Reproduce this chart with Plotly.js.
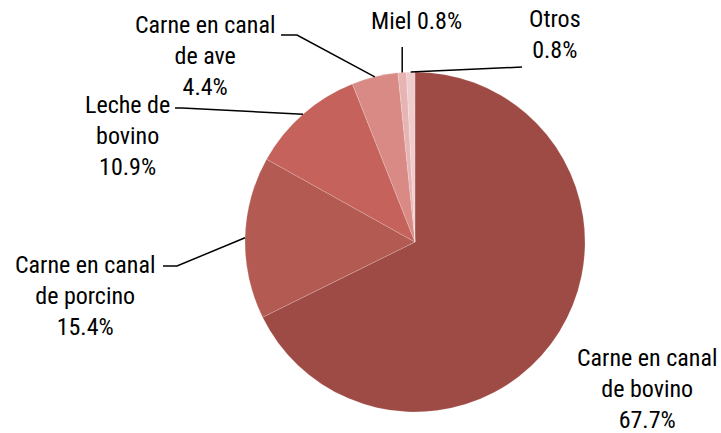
<!DOCTYPE html>
<html>
<head>
<meta charset="utf-8">
<script src="https://cdn.plot.ly/plotly-3.0.1.min.js"></script>
<style>html,body{margin:0;padding:0;background:#fff;}#chart{width:721px;height:433px;}</style>
</head>
<body>
<div id="chart"></div>
<script>
// Data
const categories = ["Carne en canal de bovino", "Carne en canal de porcino", "Leche de bovino", "Carne en canal de ave", "Miel", "Otros"];
const labelLines = [["Carne en canal", "de bovino"], ["Carne en canal", "de porcino"], ["Leche de", "bovino"], ["Carne en canal", "de ave"], ["Miel"], ["Otros"]];
const shares = [67.7, 15.4, 10.9, 4.4, 0.8, 0.8];
const sliceColors = ["#9e4b45", "#b35a52", "#c5625c", "#d98a84", "#e7b4b4", "#f0cdcd"];

const W = 721, H = 433;
const cx = 415, cy = 242, R = 170;
const FONT = "'Roboto Condensed', 'DejaVu Sans Condensed', sans-serif";

const px = x => x / W;
const py = y => 1 - y / H;

const total = shares.reduce((a, b) => a + b, 0);
const mids = [];
let cum = 0;
shares.forEach(v => { mids.push((cum + v / 2) / total * 2 * Math.PI); cum += v; });
const rim = i => [cx + R * Math.sin(mids[i]), cy - R * Math.cos(mids[i])];

// label placement (pixels): center x, middle y, and leader elbows
const labelPos = [
  {x: 647, y: 389, lead: null},
  {x: 85, y: 296, lead: [[163, 266], [177, 266]]},
  {x: 127, y: 136, lead: [[175, 108], [182, 108]]},
  {x: 205, y: 56, lead: [[281, 35], [297, 35]]},
  {x: 416, y: 21, lead: "vert"},
  {x: 555, y: 34, lead: [[522, 67]]}
];

const annotations = [];
const shapes = [];
labelPos.forEach((p, i) => {
  const pct = shares[i].toFixed(1) + "%";
  let text;
  if (i === 4) text = labelLines[i][0] + " " + pct;
  else text = labelLines[i].concat([pct]).join("<br>");
  annotations.push({
    x: px(p.x), y: py(p.y), xref: "paper", yref: "paper",
    xanchor: "center", yanchor: "middle", showarrow: false, align: "center",
    text: text, font: {family: FONT, size: 24, color: "#000"}
  });
  if (p.lead) {
    const r = rim(i);
    let pts;
    if (p.lead === "vert") pts = [[r[0], 47], r];
    else pts = p.lead.concat([r]);
    const path = pts.map((q, k) => (k ? "L" : "M") + px(q[0]).toFixed(5) + "," + py(q[1]).toFixed(5)).join(" ");
    shapes.push({type: "path", xref: "paper", yref: "paper", path: path, line: {color: "#000", width: 1.5}});
  }
});

const trace = {
  type: "pie",
  labels: categories,
  values: shares,
  sort: false,
  direction: "clockwise",
  rotation: 0,
  textinfo: "none",
  hoverinfo: "label+percent",
  marker: {colors: sliceColors, line: {color: "rgba(255,255,255,0.35)", width: 0.5}},
  domain: {x: [px(cx - R), px(cx + R)], y: [py(cy + R), py(cy - R)]},
  showlegend: false
};

const layout = {
  width: W, height: H,
  margin: {l: 0, r: 0, t: 0, b: 0},
  paper_bgcolor: "#fff",
  showlegend: false,
  annotations: annotations,
  shapes: shapes
};

Plotly.newPlot("chart", [trace], layout, {displayModeBar: false, staticPlot: true});
</script>
</body>
</html>
